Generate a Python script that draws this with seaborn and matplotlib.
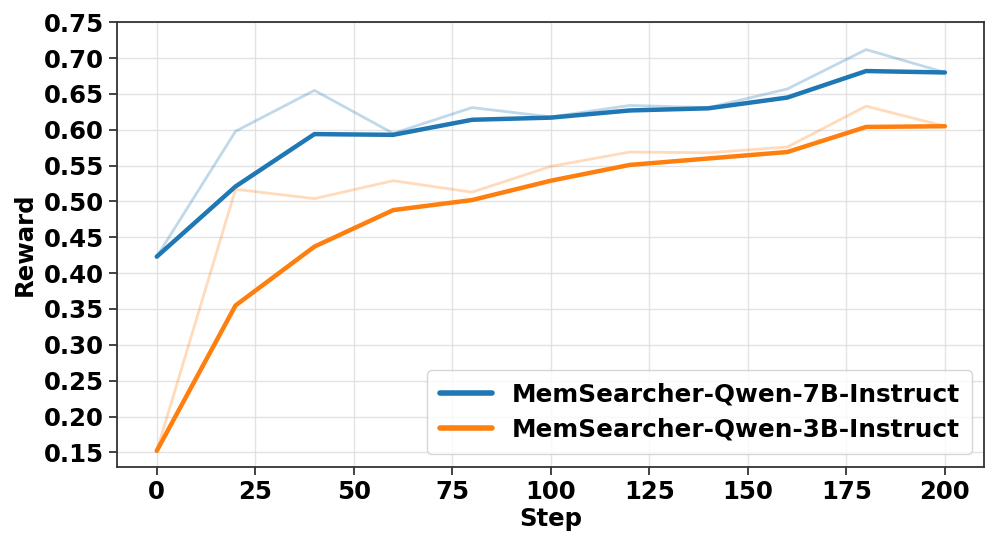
import pandas as pd
import matplotlib
matplotlib.use("Agg")
import matplotlib.pyplot as plt
import seaborn as sns

# training steps and rewards
steps = [0, 20, 40, 60, 80, 100, 120, 140, 160, 180, 200]
raw_7b = [0.423, 0.598, 0.655, 0.595, 0.631, 0.618, 0.634, 0.631, 0.657, 0.712, 0.680]
smooth_7b = [0.423, 0.521, 0.594, 0.593, 0.614, 0.617, 0.627, 0.630, 0.645, 0.682, 0.680]
raw_3b = [0.152, 0.517, 0.504, 0.529, 0.513, 0.549, 0.569, 0.568, 0.576, 0.633, 0.605]
smooth_3b = [0.152, 0.355, 0.437, 0.488, 0.502, 0.529, 0.551, 0.560, 0.569, 0.604, 0.605]

labels = ["MemSearcher-Qwen-7B-Instruct", "MemSearcher-Qwen-3B-Instruct"]
colors = ["#1f77b4", "#ff7f0e"]

sns.set_style("ticks")
plt.rcParams["font.family"] = ["DejaVu Sans"]
plt.rcParams["font.weight"] = "bold"
plt.rcParams["text.color"] = "black"
plt.rcParams["axes.labelcolor"] = "black"
plt.rcParams["xtick.labelcolor"] = "black"
plt.rcParams["ytick.labelcolor"] = "black"

fig = plt.figure(figsize=(9.97, 5.48), dpi=100)
ax = fig.add_axes([0.1177, 0.1484, 0.8696, 0.8109])

series = [(raw_7b, smooth_7b), (raw_3b, smooth_3b)]
for (raw, smooth), label, color in zip(series, labels, colors):
    df = pd.DataFrame({"Step": steps, "raw": raw, "smooth": smooth})
    sns.lineplot(data=df, x="Step", y="raw", ax=ax, color=color, alpha=0.28,
                 linewidth=2.0, label="_nolegend_")
    sns.lineplot(data=df, x="Step", y="smooth", ax=ax, color=color,
                 linewidth=3.2, label=label)

ax.set_xlim(-10, 210)
ax.set_ylim(0.13, 0.75)
ax.set_xticks(range(0, 201, 25))
ax.set_yticks([0.15 + 0.05 * i for i in range(13)])
ax.set_yticklabels([f"{0.15 + 0.05 * i:.2f}" for i in range(13)])
ax.grid(True, color="#dddddd", linewidth=1.0, alpha=0.8)
ax.set_axisbelow(True)

for spine in ax.spines.values():
    spine.set_color("#333333")
    spine.set_linewidth(1.3)
ax.tick_params(axis="both", labelsize=17.6, length=6, width=1.3, color="#333333",
               labelcolor="black")
for t in ax.get_xticklabels() + ax.get_yticklabels():
    t.set_fontweight("bold")

ax.set_xlabel("Step", fontsize=17.6, fontweight="bold", labelpad=2, color="black")
ax.set_ylabel("Reward", fontsize=17.6, fontweight="bold", labelpad=5, color="black")

leg = ax.legend(loc="lower right", fontsize=17.8, frameon=True, fancybox=True,
                handlelength=2.1, borderpad=0.5, labelspacing=0.45,
                handletextpad=0.8)
leg.get_frame().set_edgecolor("#cccccc")
for text in leg.get_texts():
    text.set_fontweight("bold")
    text.set_color("black")
for line in leg.get_lines():
    line.set_linewidth(4)

fig.savefig("out.png", dpi=100)
